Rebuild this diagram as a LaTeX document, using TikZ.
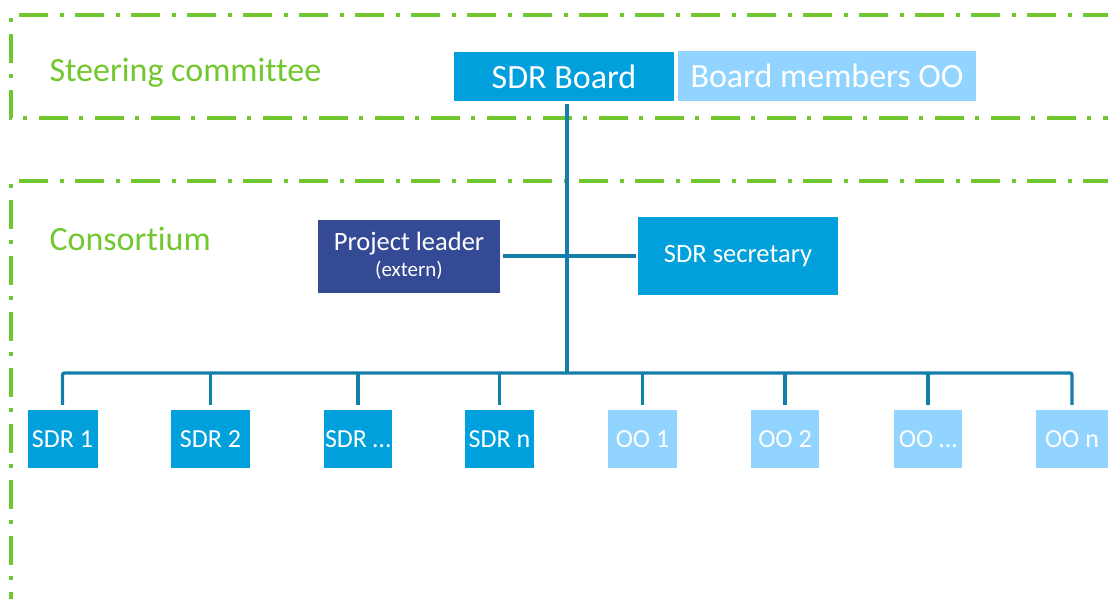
\documentclass[tikz,border=0pt]{standalone}
\usepackage{fontspec}
\setmainfont[Ligatures=NoCommon]{Carlito}
\definecolor{sdrblue}{RGB}{0,160,220}
\definecolor{oolight}{RGB}{144,212,255}
\definecolor{leaderblue}{RGB}{53,74,148}
\definecolor{linkteal}{RGB}{20,126,170}
\definecolor{zonegreen}{RGB}{113,199,46}

\begin{document}
\begin{tikzpicture}[x=1pt,y=-1pt,
    zone/.style={draw=zonegreen,line width=3.3pt,dash pattern=on 29pt off 11pt on 4pt off 12pt},
    zonelabel/.style={anchor=base west,text=zonegreen,font=\fontsize{34}{40}\selectfont},
    unit/.style={fill=sdrblue,text=white,inner sep=0pt,align=center},
    member/.style={unit,fill=oolight},
    link/.style={draw=linkteal,line width=3.3pt}]

    \useasboundingbox (0,0) rectangle (1108,599);

    % Steering committee zone
    \draw[zone] (1112,15) -- (11,15) -- (11,118) -- (1112,118);
    \node[zonelabel] (steering) at (46,82) {Steering committee};

    % Consortium zone
    \draw[zone] (1112,181) -- (11,181) -- (11,604);
    \node[zonelabel] (consortium) at (46,250) {Consortium};

    % Board
    \node[unit,minimum width=220pt,minimum height=49pt,font=\fontsize{34}{40}\selectfont] (board) at (564,76.5) {SDR Board};
    \node[member,minimum width=298pt,minimum height=50pt,font=\fontsize{34}{40}\selectfont] (members) at (827,76) {Board members OO};

    % Project leader and secretary
    \node[unit,fill=leaderblue,minimum width=182pt,minimum height=73pt,font=\fontsize{26.5}{26}\selectfont] (leader) at (409,256) {Project leader\\{\fontsize{21}{26}\selectfont (extern)}};
    \node[unit,minimum width=200pt,minimum height=78pt,font=\fontsize{26.5}{30}\selectfont] (secretary) at (738,256) {SDR secretary};

    % Trunk
    \coordinate (hub) at (567,373);
    \draw[link] ([yshift=-3pt]board.south -| hub) -- (hub);
    \draw[link,shorten <=3pt,shorten >=2pt] (leader.east) -- (secretary.west);

    % SDR and OO units
    \foreach \x/\w/\nm/\txt in {62.5/70/sdr1/SDR 1, 210.5/79/sdr2/SDR 2, 358/68/sdrx/{SDR …}, 499.5/69/sdrn/SDR n}
      \node[unit,minimum width=\w pt,minimum height=58pt,font=\fontsize{26}{30}\selectfont] (\nm) at (\x,439) {\txt};
    \foreach \x/\w/\nm/\txt in {642.5/69/oo1/OO 1, 785/68/oo2/OO 2, 928/68/oox/{OO …}, 1072/72/oon/OO n}
      \node[member,minimum width=\w pt,minimum height=58pt,font=\fontsize{26}{30}\selectfont] (\nm) at (\x,439) {\txt};

    % Branches
    \draw[link,rounded corners=2pt] ([yshift=5pt]sdr1.north) |- (hub) -| ([yshift=5pt]oon.north);
    \foreach \nm in {sdr2,sdrx,sdrn,oo1,oo2,oox}
      \draw[link] ([yshift=5pt]\nm.north) -- (\nm.north |- hub);
\end{tikzpicture}
\end{document}
